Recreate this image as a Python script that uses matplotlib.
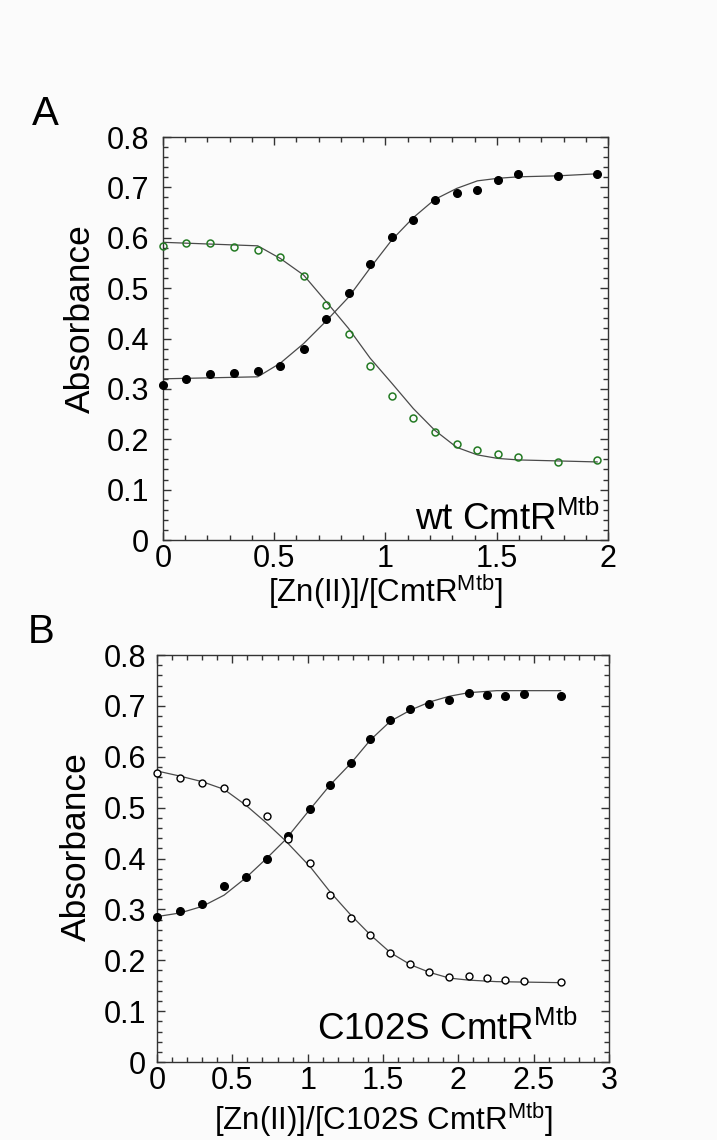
import numpy as np
import matplotlib
matplotlib.use('Agg')
import matplotlib.pyplot as plt
from matplotlib.ticker import MultipleLocator, FuncFormatter

plt.rcParams['font.family'] = ['Liberation Sans', 'DejaVu Sans']
plt.rcParams['mathtext.fontset'] = 'custom'
plt.rcParams['mathtext.rm'] = 'Liberation Sans'
plt.rcParams['mathtext.it'] = 'Liberation Sans:italic'

# --- Panel A: wt CmtR ---
a_x = [0.0, 0.105, 0.213, 0.321, 0.426, 0.527, 0.632, 0.734, 0.834, 0.931,
       1.029, 1.125, 1.221, 1.320, 1.413, 1.504, 1.597, 1.776, 1.951]
a_filled = [0.308, 0.320, 0.329, 0.331, 0.335, 0.345, 0.379, 0.438, 0.490, 0.548,
            0.601, 0.635, 0.674, 0.688, 0.695, 0.714, 0.726, 0.722, 0.727]
a_open = [0.583, 0.589, 0.589, 0.581, 0.575, 0.561, 0.525, 0.466, 0.408, 0.345,
          0.286, 0.242, 0.214, 0.191, 0.179, 0.171, 0.165, 0.155, 0.159]

# fitted curves
a_fit_x = [0.0, 0.426, 0.527, 0.632, 0.734, 0.834, 0.931, 1.029, 1.125, 1.221,
           1.320, 1.413, 1.504, 1.597, 1.776, 1.951]
a_fit_filled = [0.320, 0.324, 0.351, 0.390, 0.435, 0.482, 0.540, 0.596, 0.640, 0.676,
                0.698, 0.713, 0.718, 0.721, 0.723, 0.727]
a_fit_open = [0.591, 0.584, 0.559, 0.526, 0.473, 0.420, 0.361, 0.311, 0.261, 0.218,
              0.184, 0.169, 0.162, 0.159, 0.157, 0.155]

# --- Panel B: C102S CmtR ---
b_x = [0.002, 0.153, 0.301, 0.445, 0.589, 0.730, 0.871, 1.016, 1.150, 1.286,
       1.416, 1.549, 1.679, 1.808, 1.935, 2.068, 2.190, 2.312, 2.434, 2.679]
b_filled = [0.286, 0.296, 0.310, 0.346, 0.364, 0.400, 0.444, 0.498, 0.544, 0.588,
            0.634, 0.672, 0.694, 0.704, 0.711, 0.726, 0.722, 0.720, 0.723, 0.720]
b_open = [0.569, 0.558, 0.549, 0.538, 0.512, 0.484, 0.438, 0.392, 0.329, 0.284,
          0.250, 0.214, 0.192, 0.176, 0.168, 0.170, 0.166, 0.161, 0.159, 0.157]

b_fit_x = [0.002, 0.153, 0.301, 0.445, 0.589, 0.730, 0.849, 1.016, 1.150, 1.286,
           1.416, 1.549, 1.684, 1.812, 1.940, 2.068, 2.254, 2.679]
b_fit_filled = [0.286, 0.293, 0.306, 0.328, 0.362, 0.401, 0.436, 0.497, 0.545, 0.587,
                0.633, 0.670, 0.692, 0.708, 0.719, 0.726, 0.730, 0.730]
b_fit_open = [0.572, 0.562, 0.551, 0.536, 0.505, 0.469, 0.436, 0.384, 0.334, 0.289,
              0.250, 0.215, 0.191, 0.176, 0.165, 0.161, 0.158, 0.156]

green = '#237a23'
line_col = '#4a4a4a'
bg = '#fbfbfb'
TICK_FS = 22
XLABEL_FS = 22.5
YLABEL_FS = 25.5
NOTE_FS = 26.5


def fmt(v, pos):
    if abs(v) < 1e-9:
        return '0'
    s = f'{v:.1f}'
    return s[:-2] if s.endswith('.0') else s


def style_axes(ax, xmax, ypad):
    ax.set_facecolor(bg)
    ax.set_xlim(0, xmax)
    ax.set_ylim(0, 0.8)
    ax.xaxis.set_major_locator(MultipleLocator(0.5))
    ax.xaxis.set_minor_locator(MultipleLocator(0.1))
    ax.yaxis.set_major_locator(MultipleLocator(0.1))
    ax.yaxis.set_minor_locator(MultipleLocator(0.02))
    ax.xaxis.set_major_formatter(FuncFormatter(fmt))
    ax.yaxis.set_major_formatter(FuncFormatter(fmt))
    ax.tick_params(which='both', direction='in', top=True, right=True,
                   labelsize=TICK_FS, color='#333333')
    ax.tick_params(which='major', length=6, width=1, pad=3)
    ax.tick_params(axis='y', which='major', pad=ypad)
    ax.tick_params(which='minor', length=3.5, width=1)
    for s in ax.spines.values():
        s.set_linewidth(1)
        s.set_color('#333333')


fig = plt.figure(figsize=(7.17, 11.4), dpi=100, facecolor=bg)

axA = fig.add_axes([0.2273, 0.5263, 0.6207, 0.3535])
style_axes(axA, 2, 10)
axA.plot(a_fit_x, a_fit_filled, color=line_col, lw=0.9, zorder=2)
axA.plot(a_fit_x, a_fit_open, color=line_col, lw=0.9, zorder=2)
axA.plot(a_x, a_filled, 'o', color='black', ms=5.5, zorder=3, clip_on=False)
axA.plot(a_x, a_open, 'o', mfc='none', mec=green, mew=1.1, ms=5, zorder=3, clip_on=False)
axA.set_ylabel('Absorbance', fontsize=YLABEL_FS)
axA.yaxis.set_label_coords(-0.148, 0.55)
axA.set_xlabel(r'[Zn(II)]/[CmtR$^{\mathrm{Mtb}}$]', fontsize=XLABEL_FS)
axA.xaxis.set_label_coords(0.5, -0.08)
axA.text(0.982, 0.025, r'wt CmtR$^{\mathrm{Mtb}}$', transform=axA.transAxes,
         ha='right', va='baseline', fontsize=NOTE_FS)
fig.text(0.063, 0.9, 'A', fontsize=29, ha='center', va='center')

axB = fig.add_axes([0.219, 0.0684, 0.6304, 0.357])
style_axes(axB, 3, 8)
axB.plot(b_fit_x, b_fit_filled, color=line_col, lw=0.9, zorder=2)
axB.plot(b_fit_x, b_fit_open, color=line_col, lw=0.9, zorder=2)
axB.plot(b_x, b_filled, 'o', color='black', ms=5.5, zorder=3, clip_on=False)
axB.plot(b_x, b_open, 'o', mfc='white', mec='black', mew=1, ms=5, zorder=3, clip_on=False)
axB.set_ylabel('Absorbance', fontsize=YLABEL_FS)
axB.yaxis.set_label_coords(-0.142, 0.53)
axB.set_xlabel(r'[Zn(II)]/[C102S CmtR$^{\mathrm{Mtb}}$]', fontsize=XLABEL_FS)
axB.xaxis.set_label_coords(0.5, -0.093)
axB.text(0.931, 0.054, r'C102S CmtR$^{\mathrm{Mtb}}$', transform=axB.transAxes,
         ha='right', va='baseline', fontsize=NOTE_FS)
fig.text(0.058, 0.446, 'B', fontsize=29, ha='center', va='center')

fig.savefig('out.png', dpi=100, facecolor=bg)
